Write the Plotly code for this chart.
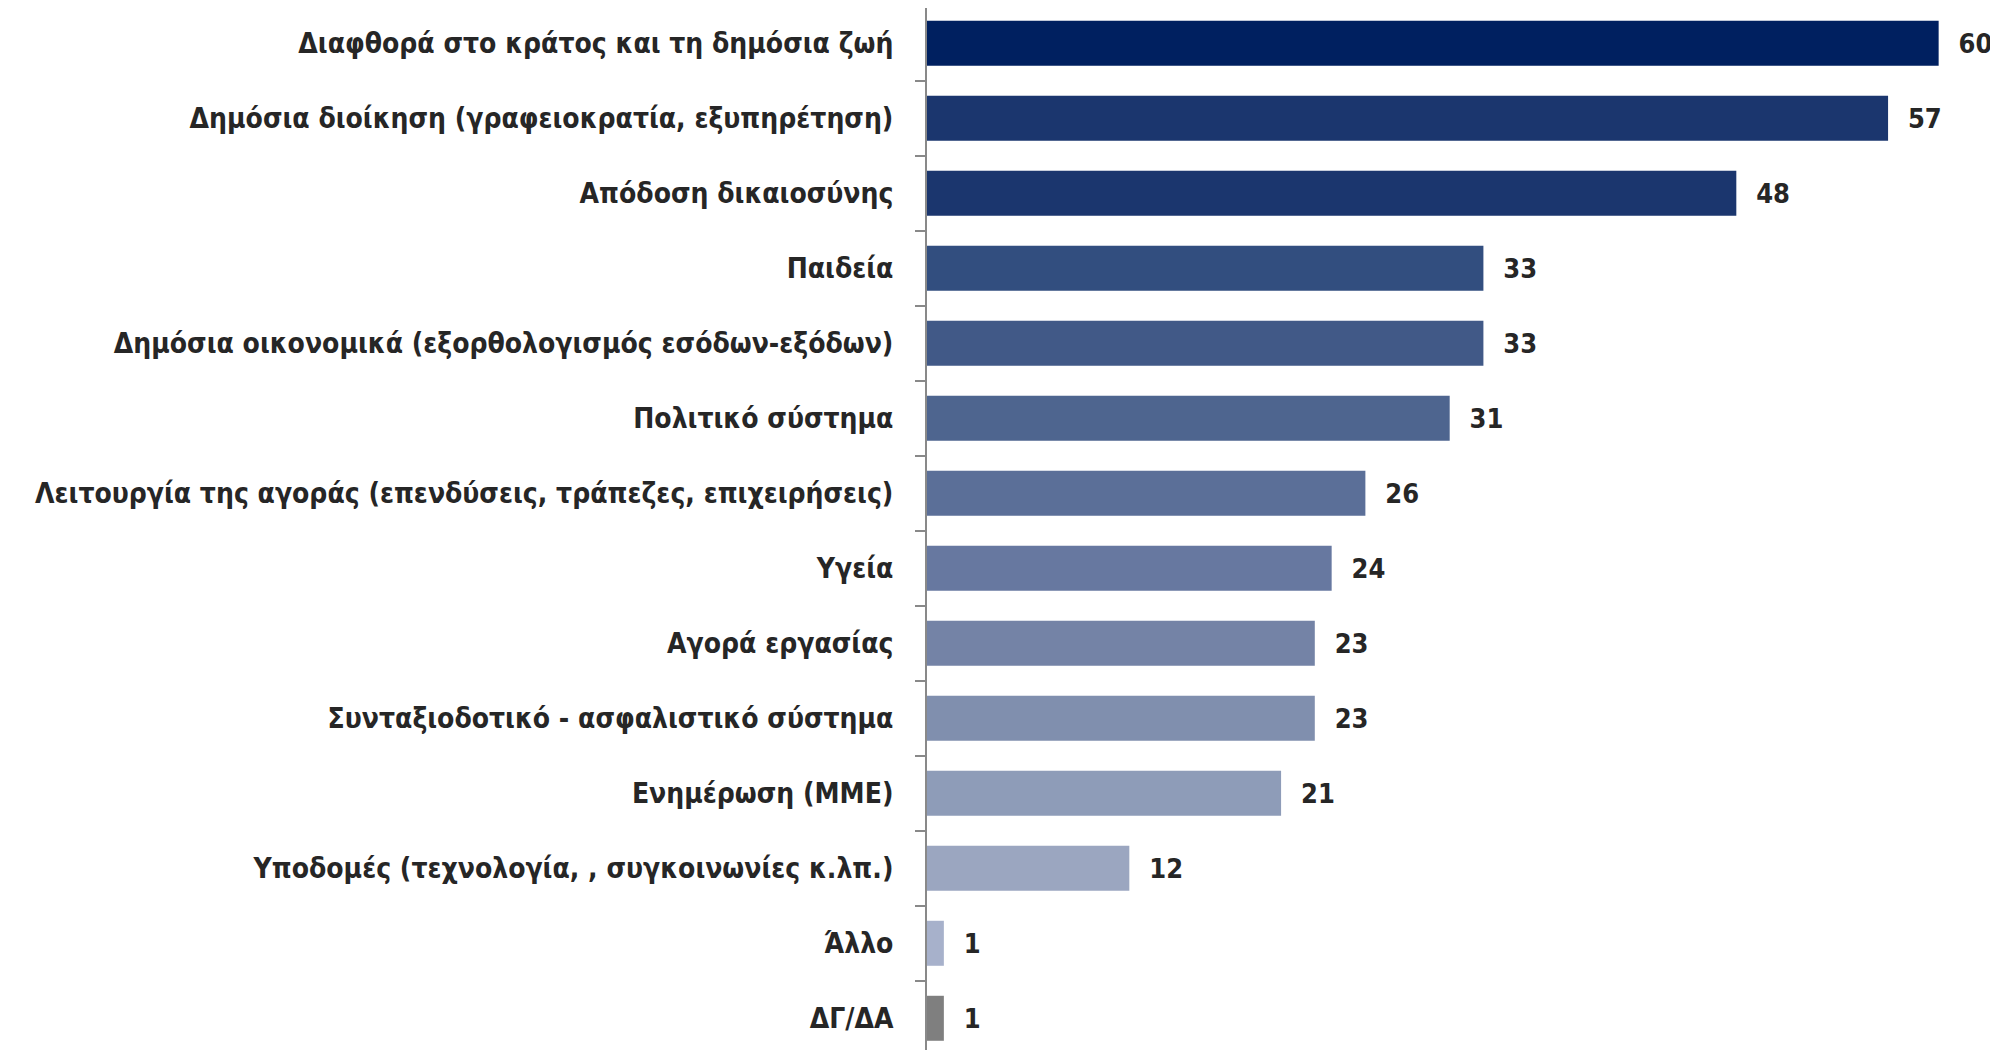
import plotly.graph_objects as go

categories = [
    "Διαφθορά στο κράτος και τη δημόσια ζωή",
    "Δημόσια διοίκηση (γραφειοκρατία, εξυπηρέτηση)",
    "Απόδοση δικαιοσύνης",
    "Παιδεία",
    "Δημόσια οικονομικά (εξορθολογισμός εσόδων-εξόδων)",
    "Πολιτικό σύστημα",
    "Λειτουργία της αγοράς (επενδύσεις, τράπεζες, επιχειρήσεις)",
    "Υγεία",
    "Αγορά εργασίας",
    "Συνταξιοδοτικό - ασφαλιστικό σύστημα",
    "Ενημέρωση (ΜΜΕ)",
    "Υποδομές (τεχνολογία, , συγκοινωνίες κ.λπ.)",
    "Άλλο",
    "ΔΓ/ΔΑ",
]
values = [60, 57, 48, 33, 33, 31, 26, 24, 23, 23, 21, 12, 1, 1]
colors = [
    "#002060", "#1b366e", "#1b366e", "#324e7f", "#415987", "#4e658f",
    "#5b6f98", "#6778a0", "#7483a6", "#808fae", "#8e9cb8", "#9ba6c0",
    "#a7b1cb", "#7f7f7f",
]

FONT = "DejaVu Sans Condensed"

fig = go.Figure(
    go.Bar(
        y=categories,
        x=values,
        orientation="h",
        marker=dict(color=colors, line=dict(width=0)),
        text=["\u00a0\u00a0" + str(v) for v in values],
        textposition="outside",
        textfont=dict(family=FONT, size=27, color="#262626", weight="bold"),
        cliponaxis=False,
        width=0.6,
    )
)

fig.update_layout(
    width=1990,
    height=1042,
    margin=dict(l=919, r=0, t=0, b=0, autoexpand=False),
    plot_bgcolor="white",
    paper_bgcolor="white",
    showlegend=False,
    font=dict(family=FONT, size=28, color="#262626"),
)
fig.update_xaxes(
    range=[0, 63.52],
    visible=False,
    showgrid=False,
    zeroline=False,
    automargin=False,
)
fig.update_yaxes(
    type="category",
    range=[13.423, -0.4707],
    automargin=False,
    showline=True,
    linecolor="#898989",
    linewidth=2,
    ticks="outside",
    tickson="boundaries",
    ticklen=10,
    tickwidth=2,
    tickcolor="#898989",
    showgrid=False,
    zeroline=False,
    tickfont=dict(family=FONT, size=28, color="#262626", weight="bold"),
    ticklabelstandoff=26,
)

fig.write_html("out.html")
